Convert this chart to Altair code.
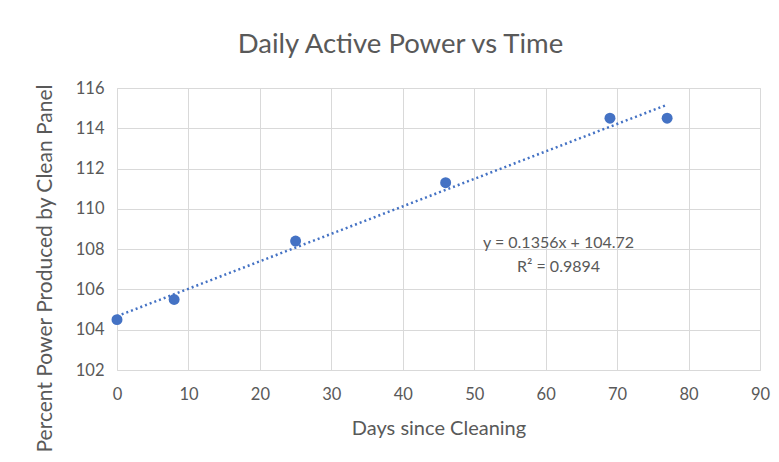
import altair as alt
import pandas as pd

days = [0, 8, 25, 46, 69, 77]
power = [104.5, 105.5, 108.4, 111.3, 114.5, 114.5]

eq_lines = ["y = 0.1356x + 104.72", "R² = 0.9894"]
eq_x = [61.8, 61.8]
eq_y = [108.3, 107.1]

df = pd.DataFrame({"days": days, "power": power})
ann = pd.DataFrame({"label": eq_lines, "x": eq_x, "y": eq_y})

GRAY = "#595959"
BLUE = "#4472C4"
FONT = "Lato"

xscale = alt.Scale(domain=[0, 90], nice=False)
yscale = alt.Scale(domain=[102, 116], nice=False, zero=False)

xaxis = alt.Axis(
    title="Days since Cleaning", values=list(range(0, 91, 10)), ticks=False,
    domain=False, gridColor="#D9D9D9", labelColor=GRAY, labelFontSize=16.5,
    labelPadding=16, labelFlush=False, titleColor=GRAY, titleFontSize=20,
    titleFontWeight="normal", titlePadding=16, labelFont=FONT, titleFont=FONT,
)
yaxis = alt.Axis(
    title="Percent Power Produced by Clean Panel", values=list(range(102, 117, 2)),
    ticks=False, domain=False, gridColor="#D9D9D9", labelColor=GRAY,
    labelFontSize=16.5, labelPadding=13, labelFlush=False, titleColor=GRAY,
    titleFontSize=21, titleFontWeight="normal", labelFont=FONT, titleFont=FONT,
    titleX=-72, titleY=180, titleAngle=-90, titleAlign="center", titleBaseline="middle",
)

points = alt.Chart(df).mark_circle(size=120, color=BLUE, opacity=1).encode(
    x=alt.X("days:Q", scale=xscale, axis=xaxis),
    y=alt.Y("power:Q", scale=yscale, axis=yaxis),
)

trend = alt.Chart(df).transform_regression("days", "power").mark_line(
    color=BLUE, strokeDash=[2, 3], strokeWidth=2.5
).encode(
    x=alt.X("days:Q", scale=xscale),
    y=alt.Y("power:Q", scale=yscale),
)

text = alt.Chart(ann).mark_text(color=GRAY, fontSize=16, font=FONT).encode(
    x=alt.X("x:Q", scale=xscale),
    y=alt.Y("y:Q", scale=yscale),
    text="label:N",
)

chart = alt.layer(trend, points, text).properties(
    width=643,
    height=282,
    title=alt.TitleParams(
        "Daily Active Power vs Time", fontSize=27.5, font=FONT, color=GRAY,
        fontWeight="normal", anchor="middle", dx=-38, offset=22,
    ),
    autosize=alt.AutoSizeParams(type="none"),
    padding={"left": 109, "top": 80, "right": 11, "bottom": 84},
).configure_view(stroke=None).configure(background="white")

chart.save("out.html", embed_options={"renderer": "svg", "actions": False})
